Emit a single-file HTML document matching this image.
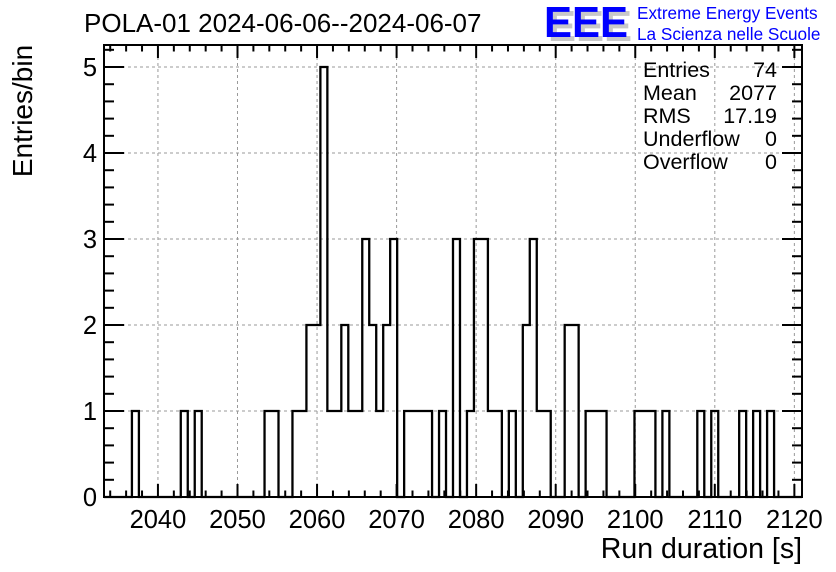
<!DOCTYPE html>
<html><head><meta charset="utf-8"><style>
html,body{margin:0;padding:0;background:#fff;}
svg{display:block;font-family:"Liberation Sans",sans-serif;}
</style></head><body>
<svg id="chart" width="836" height="572" viewBox="0 0 836 572" xmlns="http://www.w3.org/2000/svg">
<rect width="836" height="572" fill="#fff"/>
<text x="84" y="32" font-size="26">POLA-01 2024-06-06--2024-06-07</text>
<g>
<text x="548" y="41" font-size="44" font-weight="bold" fill="#c8c8c8" textLength="84" lengthAdjust="spacingAndGlyphs">EEE</text>
<text x="544" y="37" font-size="44" font-weight="bold" fill="#0000ff" textLength="84" lengthAdjust="spacingAndGlyphs">EEE</text>
<text x="637" y="19" font-size="17.2" fill="#0000ff">Extreme Energy Events</text>
<text x="637" y="40" font-size="17.2" fill="#0000ff">La Scienza nelle Scuole</text>
</g>
<g id="grid"></g>
<g id="hist"></g>
<g id="axes"></g>
<g font-size="21.5">
<text x="643" y="77">Entries</text><text x="777" y="77" text-anchor="end">74</text>
<text x="643" y="100">Mean</text><text x="777" y="100" text-anchor="end">2077</text>
<text x="643" y="123">RMS</text><text x="777" y="123" text-anchor="end">17.19</text>
<text x="643" y="146">Underflow</text><text x="777" y="146" text-anchor="end">0</text>
<text x="643" y="169">Overflow</text><text x="777" y="169" text-anchor="end">0</text>
</g>
<text transform="translate(32,111) rotate(-90)" text-anchor="middle" font-size="28">Entries/bin</text>
<text x="802" y="558" text-anchor="end" font-size="28.5">Run duration [s]</text>
</svg>
<script>
const counts = [0,0,0,0,1,0,0,0,0,0,0,1,0,1,0,0,0,0,0,0,0,0,0,1,1,0,0,1,1,2,2,5,1,1,2,1,1,3,2,1,2,3,0,1,1,1,1,0,1,0,3,0,1,3,3,1,1,0,1,0,2,3,1,1,0,0,2,2,0,1,1,1,0,0,0,0,1,1,1,0,1,0,0,0,0,1,0,1,0,0,0,1,0,1,0,1,0,0,0,0];
const xTicks = [2040,2050,2060,2070,2080,2090,2100,2110,2120];
const yTicks = [0,1,2,3,4,5];
const xMin = 2033.22, xMax = 2120.96, yMin = 0, yMax = 5.256;
const L=104, R=802, T=45, B=497;
const NS="http://www.w3.org/2000/svg";
const X = v => L + (v - xMin) / (xMax - xMin) * (R - L);
const Y = v => B - (v - yMin) / (yMax - yMin) * (B - T);
function mk(tag, attrs, parent){const e=document.createElementNS(NS,tag);for(const k in attrs)e.setAttribute(k,attrs[k]);parent.appendChild(e);return e;}
const grid=document.getElementById('grid'), hist=document.getElementById('hist'), axes=document.getElementById('axes');
xTicks.forEach(t=>{const l=mk('line',{x1:X(t),x2:X(t),y1:T,y2:B,stroke:'#999','stroke-dasharray':'3,3'},grid);

});
yTicks.forEach(t=>{const l=mk('line',{x1:L,x2:R,y1:Y(t),y2:Y(t),stroke:'#999','stroke-dasharray':'3,3'},grid);

});
const bw=(xMax-xMin)/counts.length;
let d='M'+X(xMin)+','+Y(0);
counts.forEach((c,i)=>{d+=' L'+X(xMin+i*bw)+','+Y(c)+' L'+X(xMin+(i+1)*bw)+','+Y(c);});
d+=' L'+X(xMax)+','+Y(0);
const p=mk('path',{d:d,fill:'none',stroke:'#000','stroke-width':2.3},hist);


const fr=mk('rect',{x:L,y:T,width:R-L,height:B-T,fill:'none',stroke:'#000','stroke-width':2},axes);


for(let v=2034; v<=2120; v+=2){const maj=(v%10===0);const len=maj?13:6.5;
mk('line',{x1:X(v),x2:X(v),y1:B,y2:B-len,stroke:'#000','stroke-width':2},axes);
mk('line',{x1:X(v),x2:X(v),y1:T,y2:T+len,stroke:'#000','stroke-width':2},axes);}
for(let v=0; v<=5.2001; v+=0.2){const maj=Math.abs(v-Math.round(v))<1e-6;const len=maj?20:10;
mk('line',{x1:L,x2:L+len,y1:Y(v),y2:Y(v),stroke:'#000','stroke-width':2},axes);
mk('line',{x1:R,x2:R-len,y1:Y(v),y2:Y(v),stroke:'#000','stroke-width':2},axes);}
xTicks.forEach(t=>{const tx=mk('text',{x:X(t),y:528,'text-anchor':'middle','font-size':25.5},axes);tx.textContent=t;

});
yTicks.forEach(t=>{const tx=mk('text',{x:97,y:Y(t)+9,'text-anchor':'end','font-size':25.5},axes);tx.textContent=t;

});
</script>
</body></html>
